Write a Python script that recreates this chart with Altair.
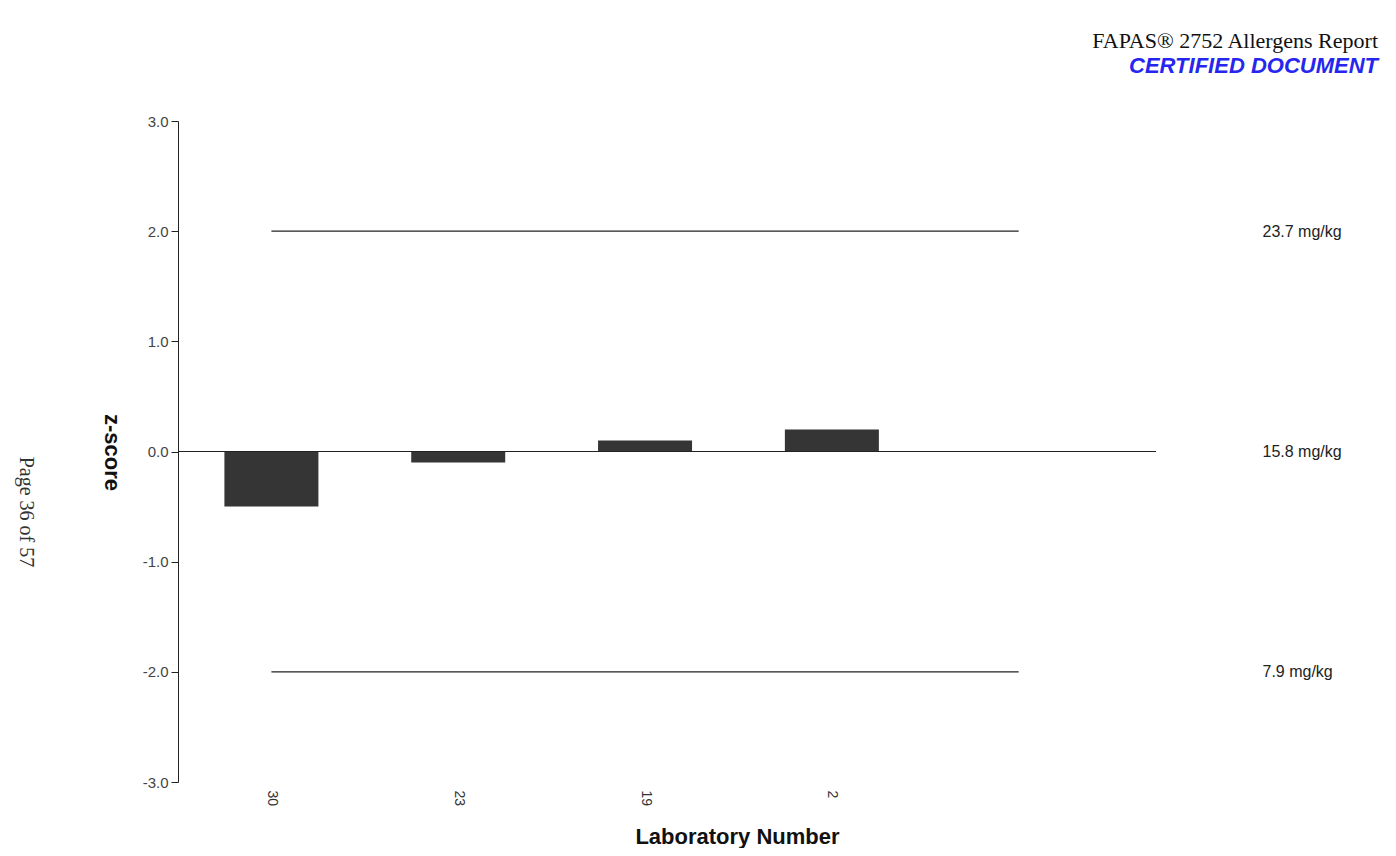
import json
import altair as alt
import pandas as pd

# ---- data ----
labs = ["30", "23", "19", "2"]
zscores = [-0.5, -0.1, 0.1, 0.2]
limit_z = [2.0, 0.0, -2.0]
limit_labels = ["23.7 mg/kg", "15.8 mg/kg", "7.9 mg/kg"]
y_ticks = [-3, -2, -1, 0, 1, 2, 3]
header_title = "FAPAS® 2752 Allergens Report"
header_sub = "CERTIFIED DOCUMENT"
page_label = "Page 36 of 57"

positions = list(range(1, len(labs) + 1))
X_DOMAIN = [0.5, 5.735]
Y_DOMAIN = [-3, 3]

bars_df = pd.DataFrame({"pos": positions, "lab": labs, "z": zscores})
band_df = pd.DataFrame({"x": [positions[0]] * 2, "x2": [len(labs) + 1] * 2,
                        "z": [limit_z[0], limit_z[2]]})
zero_df = pd.DataFrame({"x": [X_DOMAIN[0]], "x2": [X_DOMAIN[1]], "z": [limit_z[1]]})
page_df = pd.DataFrame({"t": [page_label]})

lab_expr = "%s[datum.value - 1]" % json.dumps(labs)
lim_expr = " : ".join(
    "datum.value == %s ? '%s'" % (v, l) for v, l in zip(limit_z[:-1], limit_labels[:-1])
) + " : '%s'" % limit_labels[-1]
ytick_expr = ("datum.value < 0 ? '-' + format(abs(datum.value), '.1f') "
              ": format(datum.value, '.1f')")

FONT = "Liberation Sans"

xscale = alt.Scale(domain=X_DOMAIN, nice=False, zero=False, padding=0)
yscale = alt.Scale(domain=Y_DOMAIN, nice=False, zero=False, padding=0)

xaxis = alt.Axis(values=positions, labelExpr=lab_expr, labelAngle=90,
                 domain=False, ticks=False, grid=False, labelPadding=8,
                 labelFontSize=14, labelFont=FONT, labelColor="#333333",
                 title="Laboratory Number", titleFont=FONT, titleFontSize=22,
                 titleFontWeight="bold", titleColor="#111111",
                 titleX=559, titleY=61, titleBaseline="alphabetic",
                 titleAlign="center")

bars = alt.Chart(bars_df).mark_bar(size=94, color="#353535").encode(
    x=alt.X("pos:Q", scale=xscale, axis=xaxis),
    y=alt.Y("z:Q", scale=yscale,
            axis=alt.Axis(values=y_ticks, labelExpr=ytick_expr, tickSize=7,
                          labelPadding=3, domainColor="#222222", tickColor="#222222",
                          grid=False, labelFontSize=15, labelFont=FONT,
                          labelColor="#444444",
                          title="z-score", titleFont=FONT, titleFontSize=22,
                          titleFontWeight="bold", titleColor="#111111",
                          titleAngle=90, titleX=-67, titleY=331,
                          titleAlign="center", titleBaseline="middle")),
    y2=alt.datum(0),
)

zero_rule = alt.Chart(zero_df).mark_rule(color="#222222", strokeWidth=1.2).encode(
    x=alt.X("x:Q", scale=xscale, axis=xaxis),
    x2="x2:Q",
    y=alt.Y("z:Q", scale=yscale, axis=None),
)

band_rules = alt.Chart(band_df).mark_rule(color="#222222", strokeWidth=1.2).encode(
    x=alt.X("x:Q", scale=xscale, axis=xaxis),
    x2="x2:Q",
    y=alt.Y("z:Q", scale=yscale,
            axis=alt.Axis(orient="right", values=limit_z, labelExpr=lim_expr,
                          domain=False, ticks=False, grid=False, labelPadding=106,
                          labelAlign="left", labelFontSize=16, labelFont=FONT,
                          labelColor="#222222", title=None)),
)

page_text = alt.Chart(page_df).mark_text(
    angle=90, font="Liberation Serif", fontSize=20, color="#333333",
    align="center", baseline="middle",
).encode(x=alt.value(-152), y=alt.value(391), text="t:N")

chart = alt.layer(bars, zero_rule, band_rules, page_text).resolve_scale(
    y="independent"
).properties(
    width=978,
    height=661,
    autosize=alt.AutoSizeParams(type="none"),
    padding={"left": 170, "top": 113, "right": 232, "bottom": 66},
    title=alt.TitleParams(
        text=header_title, subtitle=header_sub, anchor="end", frame="group",
        dx=222, offset=36, font="Liberation Serif", fontSize=22, fontWeight="normal",
        color="#111111", subtitleFont=FONT, subtitleFontSize=22,
        subtitleFontWeight="bold", subtitleFontStyle="italic",
        subtitleColor="#2626f0", subtitlePadding=3,
    ),
).configure(background="white").configure_view(strokeWidth=0)

chart.save("out.html", embed_options={"renderer": "svg", "actions": False})
